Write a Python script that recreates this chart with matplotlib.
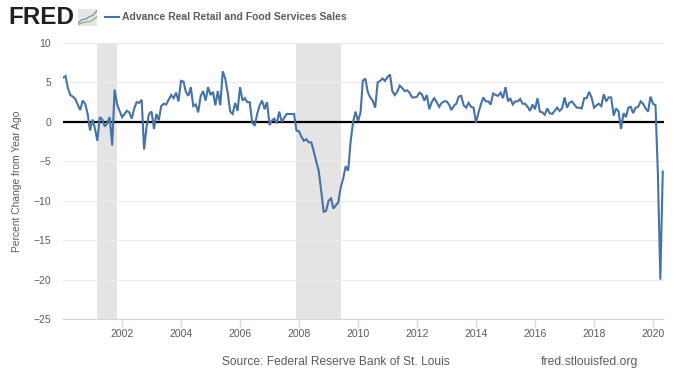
import matplotlib
matplotlib.use('Agg')
import matplotlib.pyplot as plt
import matplotlib.dates as mdates
import numpy as np
import pandas as pd

plt.rcParams['font.family'] = ['Liberation Sans', 'DejaVu Sans']

# percent change from year ago, monthly from Jan 2000
y2000 = [5.6, 5.8, 4.3, 3.4, 3.2, 2.9, 2.2, 1.5, 2.7, 2.3, 1.0, -1.1]
y2001 = [0.3, -0.9, -2.4, 0.6, 0.3, -0.6, -0.2, 0.6, -3.0, 4.1, 2.2, 1.4]
y2002 = [0.6, 1.0, 1.4, 1.2, 0.4, 1.7, 2.5, 2.4, 2.8, -3.5, -0.6, 1.0]
y2003 = [1.3, -0.9, 1.0, 0.2, 2.0, 2.3, 2.2, 2.8, 3.4, 3.0, 3.7, 2.6]
y2004 = [5.2, 5.1, 3.8, 3.3, 4.4, 2.0, 2.2, 1.2, 3.3, 3.9, 2.7, 4.4]
y2005 = [3.4, 3.8, 2.1, 3.9, 2.1, 6.4, 5.5, 3.7, 1.3, 1.0, 2.4, 1.4]
y2006 = [4.4, 2.7, 3.0, 2.5, 2.5, -0.1, -0.5, 1.0, 2.1, 2.7, 1.6, 2.5]
y2007 = [-0.4, 0.2, 0.4, -0.2, 1.3, 0.0, 0.5, 1.0, 1.0, 1.0, 1.0, -1.1]
y2008 = [-1.2, -1.9, -2.4, -2.2, -2.6, -2.6, -3.7, -5.0, -6.2, -8.7, -11.4, -11.3]
y2009 = [-10.0, -9.7, -11.0, -10.6, -10.2, -8.3, -7.2, -5.6, -6.2, -2.5, 0.0, 1.3]
y2010 = [0.1, 1.2, 5.2, 5.5, 3.8, 3.1, 2.7, 1.8, 5.0, 5.2, 5.5, 5.2]
y2011 = [5.7, 6.0, 3.9, 3.4, 3.8, 4.6, 4.3, 3.9, 4.0, 3.7, 3.1, 3.1]
y2012 = [3.2, 3.7, 3.5, 2.7, 3.4, 1.6, 2.5, 3.0, 2.5, 1.9, 2.4, 2.6]
y2013 = [2.6, 2.2, 1.5, 2.0, 2.3, 3.2, 3.3, 2.1, 1.8, 2.4, 1.9, 1.8]
y2014 = [-0.1, 1.2, 2.2, 3.1, 2.6, 2.6, 2.2, 3.6, 3.4, 3.3, 3.7, 3.0]
y2015 = [4.4, 2.6, 3.0, 2.2, 2.6, 2.6, 2.9, 2.3, 2.3, 1.9, 1.4, 2.2]
y2016 = [1.6, 3.0, 1.3, 1.2, 0.9, 1.7, 1.1, 1.0, 1.4, 1.8, 1.4, 1.7]
y2017 = [3.1, 1.8, 2.4, 2.6, 2.2, 1.8, 1.8, 1.7, 3.0, 3.0, 3.8, 3.1]
y2018 = [1.8, 2.1, 2.3, 2.0, 3.5, 2.6, 3.1, 3.1, 0.8, 1.7, 1.3, -0.9]
y2019 = [1.1, 0.6, 1.8, 1.9, 1.1, 1.8, 1.9, 2.6, 2.3, 1.7, 1.3, 3.2]
y2020 = [2.3, 2.1, -6.5, -20.0, -6.3]

valores = (y2000 + y2001 + y2002 + y2003 + y2004 + y2005 + y2006 + y2007 + y2008 + y2009
           + y2010 + y2011 + y2012 + y2013 + y2014 + y2015 + y2016 + y2017 + y2018 + y2019 + y2020)
fechas = pd.date_range('2000-01-01', periods=len(valores), freq='MS')

recesiones = [('2001-03-01', '2001-11-01'), ('2007-12-01', '2009-06-01')]
anios_ticks = list(range(2002, 2021, 2))
y_ticks = [10, 5, 0, -5, -10, -15, -20, -25]

AZUL = '#4572a7'
GRIS = '#5c5c5c'

W, H = 680, 383
fig = plt.figure(figsize=(W / 100, H / 100), dpi=100)
ax = fig.add_axes([63 / W, 1 - 319 / H, 600.5 / W, 276 / H])

for ini, fin in recesiones:
    ax.axvspan(pd.Timestamp(ini), pd.Timestamp(fin), color='#e4e4e4', lw=0, zorder=1)

ax.grid(axis='y', color='#ebebeb', lw=1, zorder=0)
ax.axhline(0, color='black', lw=1.6, zorder=3)
ax.plot(fechas, valores, color=AZUL, lw=1.5, zorder=4, solid_joinstyle='miter')

ax.set_xlim(pd.Timestamp('2000-01-01'), pd.Timestamp('2020-05-10'))
ax.set_ylim(-25, 10)
ax.set_yticks(y_ticks)
ax.set_xticks([pd.Timestamp(f'{a}-01-01') for a in anios_ticks])
ax.xaxis.set_major_formatter(mdates.DateFormatter('%Y'))
ax.tick_params(axis='x', length=6, width=1, color='#ccd6eb', labelsize=7.5, labelcolor=GRIS, pad=1.5)
ax.tick_params(axis='y', length=0, labelsize=7.5, labelcolor=GRIS, pad=8.6)
for lado in ['top', 'right', 'left']:
    ax.spines[lado].set_visible(False)
ax.spines['bottom'].set_color('#ccd6eb')
ax.set_ylabel('Percent Change from Year Ago', fontsize=7.4, color=GRIS, va='center')
ax.yaxis.set_label_coords((17 - 63) / 600.5, 0.5)

# logo y leyenda
fig.text(8 / W, 1 - 24.5 / H, 'FRED', fontsize=17.5, fontweight='bold', color='#231f20', va='baseline')
icono = fig.add_axes([78 / W, 1 - 26 / H, 19 / W, 17 / H])
icono.set_facecolor('#e6e6e6')
icono.plot([0, 1, 2, 3, 4, 5], [2, 4, 4.5, 6, 7, 10], color='#6f93bd', lw=0.9)
icono.plot([0, 1, 2, 3, 4, 5], [1, 2, 2.5, 2.8, 4, 6], color='#8db26e', lw=0.9)
icono.set_xlim(0, 5)
icono.set_ylim(0, 11)
icono.set_xticks([])
icono.set_yticks([])
for lado in icono.spines.values():
    lado.set_visible(False)

fig.add_artist(plt.Line2D([104.5 / W, 118.5 / W], [1 - 17 / H, 1 - 17 / H], color=AZUL, lw=1.5))
fig.text(122 / W, 1 - 17 / H, 'Advance Real Retail and Food Services Sales', fontsize=7.45,
         fontweight='bold', color=GRIS, va='center')

fig.text(222 / W, 1 - 362 / H, 'Source: Federal Reserve Bank of St. Louis', fontsize=8.65, color=GRIS, va='center')
fig.text(541 / W, 1 - 362 / H, 'fred.stlouisfed.org', fontsize=8.75, color=GRIS, va='center')

fig.savefig('out.png', dpi=100)
